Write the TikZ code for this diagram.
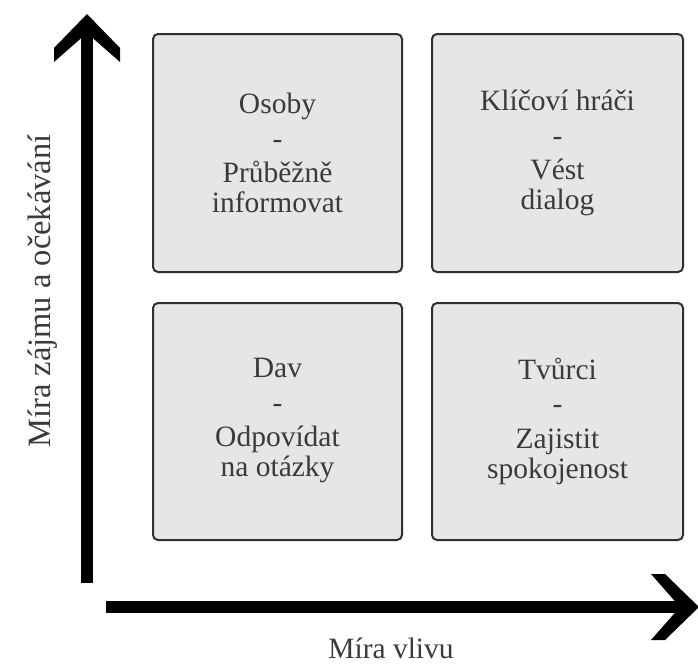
\documentclass[tikz,border=0pt]{standalone}
\usepackage{fontspec}
\setmainfont{Liberation Serif}
\newfontfamily\quadserif{Liberation Serif}
\definecolor{boxfill}{HTML}{E6E6E6}
\definecolor{boxline}{HTML}{303030}
\definecolor{txt}{HTML}{3A3A3A}
\tikzset{
  quad/.style={draw=boxline, fill=boxfill, line width=2pt, rounded corners=5pt},
  quadtext/.style={text=txt, align=center, font=\quadserif\fontsize{29.5}{30}\selectfont},
  axislabel/.style={text=txt, font=\quadserif\fontsize{29.5}{30}\selectfont, inner sep=0pt},
  axisfill/.style={fill=black, draw=none}
}
\begin{document}
\begin{tikzpicture}[x=1pt,y=-1pt]
\useasboundingbox (0,0) rectangle (698,665);
% boxes
\draw[quad] (153,34) rectangle (402,272);
\draw[quad] (432,34) rectangle (683,272);
\draw[quad] (153,303) rectangle (402,540);
\draw[quad] (432,303) rectangle (683,540);
% texts
\node[quadtext] (tl) at (277.5,153) {Osoby\\[4.5pt]-\\[4.5pt]Průběžně\\informovat};
\node[quadtext] (tr) at (557.5,153) {Klíčoví hráči\\[4.5pt]-\\[4.5pt]Vést\\dialog};
\node[quadtext] (bl) at (277.5,421) {Dav\\[4.5pt]-\\[4.5pt]Odpovídat\\na otázky};
\node[quadtext] (br) at (557.5,421) {Tvůrci\\[4.5pt]-\\[4.5pt]Zajistit\\spokojenost};
% vertical axis
\fill[axisfill] (81,30) rectangle (93,583);
\fill[axisfill] (87,14) -- (120,48) -- (120,62) -- (87,33) -- (54,62) -- (54,48) -- cycle;
% horizontal axis
\fill[axisfill] (106,601) rectangle (685,613);
\fill[axisfill] (699,607) -- (665,574) -- (651,574) -- (680,607) -- (651,640) -- (665,640) -- cycle;
% labels
\node[axislabel, anchor=base] (xl) at (391,658) {Míra vlivu};
\node[axislabel, anchor=base, rotate=90, font=\quadserif\fontsize{32.5}{33}\selectfont] (yl) at (50,291) {Míra zájmu a očekávání};
\end{tikzpicture}
\end{document}
